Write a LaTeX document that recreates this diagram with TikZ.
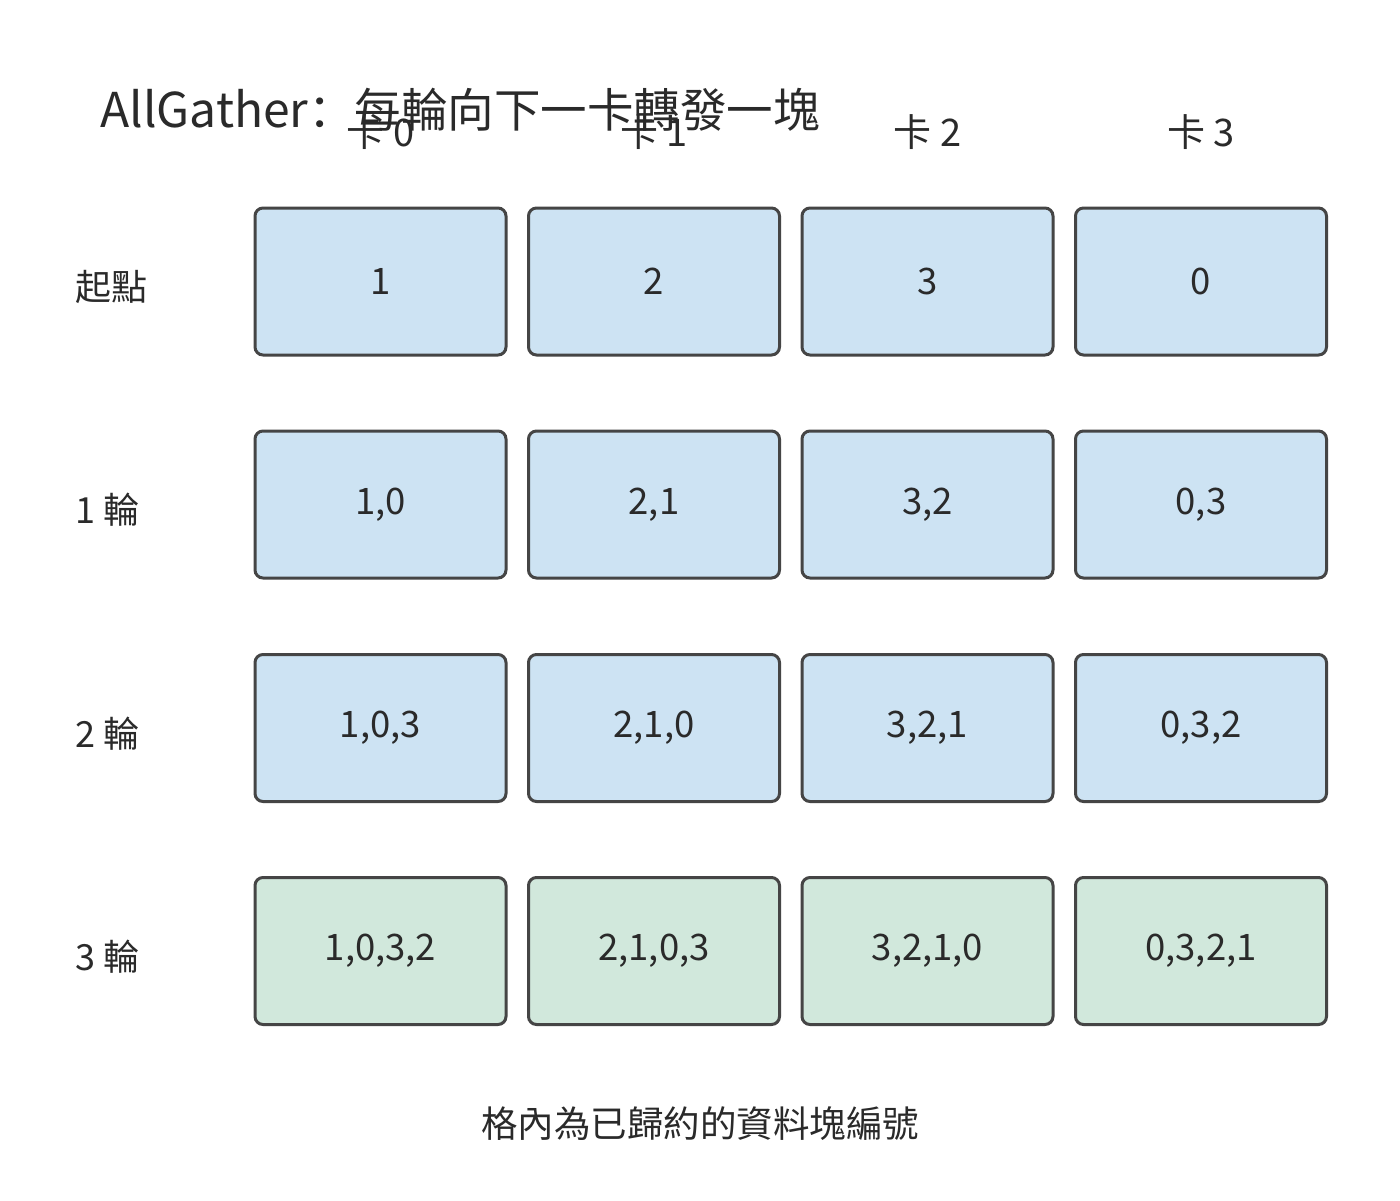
\documentclass[tikz,border=0pt]{standalone}
\usepackage{fontspec}
\setmainfont{Noto Sans CJK TC}
\newfontfamily\scfont{Noto Sans CJK SC}
\definecolor{boxblue}{HTML}{CDE3F3}
\definecolor{boxgreen}{HTML}{D1E8DC}
\definecolor{edge}{HTML}{454545}
\definecolor{ink}{HTML}{2A2A2A}
\tikzset{
  cell/.style={draw=edge, line width=3pt, rounded corners=8pt, minimum width=251pt, minimum height=147pt, inner sep=0pt, text=ink, font=\fontsize{36.5}{40}\selectfont},
  bluecell/.style={cell, fill=boxblue},
  greencell/.style={cell, fill=boxgreen},
  lbl/.style={text=ink, font=\fontsize{36}{40}\selectfont, inner sep=0pt},
  hdr/.style={text=ink, font=\fontsize{38}{42}\selectfont, inner sep=0pt},
  ttl/.style={text=ink, font=\fontsize{48}{52}\selectfont, inner sep=0pt}
}
\begin{document}
\begin{tikzpicture}[x=1pt,y=-1pt]
\useasboundingbox (0,0) rectangle (1400,1200);
\fill[white] (0,0) rectangle (1400,1200);
% title
\node[ttl, anchor=base west] (title) at (100,127) {AllGather{\fontsize{46.5}{50}\selectfont{\scfont ：}每輪向下一卡轉發一塊}};
% column headers
\node[hdr, anchor=base] (h0) at (380.5,146) {卡 0};
\node[hdr, anchor=base] (h1) at (654,146) {卡 1};
\node[hdr, anchor=base] (h2) at (927.5,146) {卡 2};
\node[hdr, anchor=base] (h3) at (1201,146) {卡 3};
% row labels
\node[lbl, anchor=west] (r0) at (75,287) {起點};
\node[lbl, anchor=west] (r1) at (75,510) {1 輪};
\node[lbl, anchor=west] (r2) at (75,734) {2 輪};
\node[lbl, anchor=west] (r3) at (75,957) {3 輪};
% cells
\node[bluecell] (c00) at (380.5,281.5) {1};
\node[bluecell] (c01) at (654,281.5) {2};
\node[bluecell] (c02) at (927.5,281.5) {3};
\node[bluecell] (c03) at (1201,281.5) {0};
\node[bluecell] (c10) at (380.5,504.5) {1,0};
\node[bluecell] (c11) at (654,504.5) {2,1};
\node[bluecell] (c12) at (927.5,504.5) {3,2};
\node[bluecell] (c13) at (1201,504.5) {0,3};
\node[bluecell] (c20) at (380.5,728) {1,0,3};
\node[bluecell] (c21) at (654,728) {2,1,0};
\node[bluecell] (c22) at (927.5,728) {3,2,1};
\node[bluecell] (c23) at (1201,728) {0,3,2};
\node[greencell] (c30) at (380.5,951) {1,0,3,2};
\node[greencell] (c31) at (654,951) {2,1,0,3};
\node[greencell] (c32) at (927.5,951) {3,2,1,0};
\node[greencell] (c33) at (1201,951) {0,3,2,1};
% footer
\node[lbl, font=\fontsize{36.5}{40}\selectfont] (foot) at (700,1124) {格內為已歸約的資料塊編號};
\end{tikzpicture}
\end{document}
